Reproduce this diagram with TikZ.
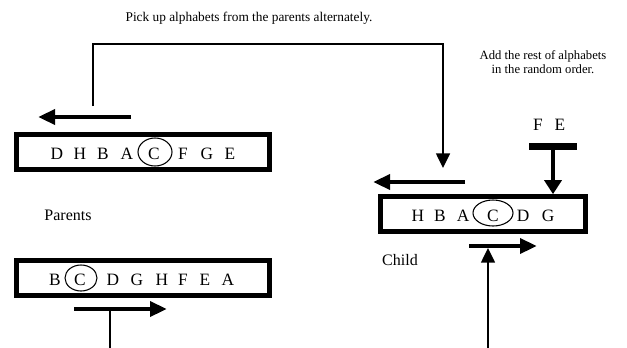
\documentclass[tikz,border=0pt]{standalone}
\usepackage{fontspec}
\setmainfont{Liberation Serif}
\usetikzlibrary{arrows.meta}
\tikzstyle{boite}  =[draw, line width=3.75pt, minimum width=190pt, minimum height=26pt, inner sep=0pt]
\tikzstyle{lettre} =[font=\fontsize{13}{15}\selectfont, inner sep=0pt]
\tikzstyle{rond}   =[line width=0.8pt]
\tikzstyle{fleche} =[line width=3.4pt, -{Triangle[length=12.75pt,width=11pt]}]
\tikzstyle{filet}  =[line width=1.1pt, -{Triangle[length=11pt,width=10.5pt]}]
\begin{document}
\begin{tikzpicture}[x=0.75pt,y=-0.75pt]
 \useasboundingbox (0,0) rectangle (627,347);
 \node[font=\fontsize{10}{12}\selectfont] (pick) at (249,18) {Pick up alphabets from the parents alternately.};
 \node[align=center, font=\fontsize{9.5}{10.5}\selectfont] (reste) at (543,62) {Add the rest of alphabets\\in the random order.};
 % parents
 \node[boite] (pere) at (143,152) {};
 \foreach \l/\x in {D/57,H/80,B/103,A/127,C/154,F/183,G/207,E/230}
   \node[lettre] (pere\l) at (\x,154) {\l};
 \draw[rond] (155,152) ellipse [x radius=17, y radius=14];
 \node[boite] (mere) at (143,278) {};
 \foreach \l/\x in {B/55,C/80,D/113,G/137,H/162,F/183,E/205,A/228}
   \node[lettre] (mere\l) at (\x,280) {\l};
 \draw[rond] (81,278) ellipse [x radius=16, y radius=13];
 \node[font=\fontsize{12}{14}\selectfont] (parents) at (68,215) {Parents};
 % child
 \node[boite, minimum width=154pt] (enfant) at (483,214) {};
 \foreach \l/\x in {H/418,B/440,A/463,C/493,D/523,G/548}
   \node[lettre] (enfant\l) at (\x,216) {\l};
 \draw[rond] (493,213) ellipse [x radius=20, y radius=13];
 \node[font=\fontsize{12}{14}\selectfont] (child) at (400,260) {Child};
 \foreach \l/\x in {F/538,E/560}
   \node[lettre] (fe\l) at (\x,125) {\l};
 % arrows
 \coordinate (depart) at (93,106);
 \coordinate (coin) at (443,44);
 \coordinate (arrivee) at (443,168);
 \draw[filet] (depart) |- (coin) -- (arrivee);
 \coordinate (g1) at (131,117); \coordinate (g1b) at (38,117);
 \draw[fleche] (g1) -- (g1b);
 \coordinate (d2) at (74,309); \coordinate (d2b) at (167,309);
 \draw[fleche] (d2) -- (d2b);
 \coordinate (pied) at (110,309); \coordinate (piedb) at (110,350);
 \draw[line width=1.1pt] (pied) -- (piedb);
 \coordinate (g3) at (465,182); \coordinate (g3b) at (373,182);
 \draw[fleche] (g3) -- (g3b);
 \coordinate (d3) at (469,246); \coordinate (d3b) at (537,246);
 \draw[fleche] (d3) -- (d3b);
 \coordinate (bas) at (488,350); \coordinate (basb) at (488,248);
 \draw[filet] (bas) -- (basb);
 \coordinate (barg) at (529,146); \coordinate (bard) at (577,146); \coordinate (barm) at (553,146);
 \draw[line width=5.25pt] (barg) -- (bard);
 \draw[line width=3pt, -{Triangle[length=10.5pt,width=12.75pt]}] (barm) -- (enfant.north -| barm);
\end{tikzpicture}
\end{document}
